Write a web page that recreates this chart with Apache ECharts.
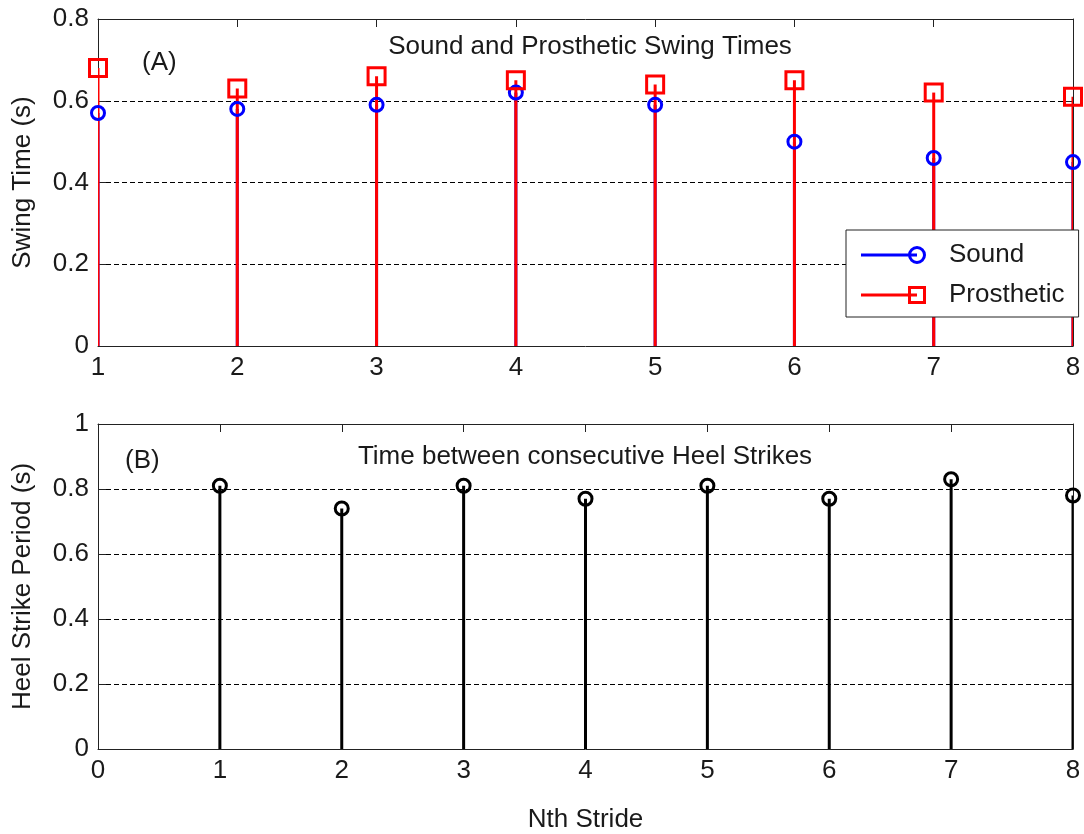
<!DOCTYPE html>
<html lang="en">
<head>
    <meta charset="UTF-8">
    <title>Swing Times</title>
    <script src="https://cdn.jsdelivr.net/npm/echarts@6/dist/echarts.min.js"></script>
    <style>
        html, body { margin: 0; padding: 0; background: #fff; }
        #container { width: 1084px; height: 834px; }
    </style>
</head>
<body>
<div id="container"></div>
<script type="text/javascript">
    // stride numbers
    var strides = [1, 2, 3, 4, 5, 6, 7, 8];
    // (A) swing times, seconds
    var soundSwing = [0.57, 0.58, 0.59, 0.62, 0.59, 0.50, 0.46, 0.45];
    var prostheticSwing = [0.68, 0.63, 0.66, 0.65, 0.64, 0.65, 0.62, 0.61];
    // (B) heel strike period, seconds
    var heelPeriod = [0.81, 0.74, 0.81, 0.77, 0.81, 0.77, 0.83, 0.78];

    var FONT = 'Liberation Sans';
    var FS = 26;
    var TXT = '#1a1a1a';

    function pairs(xs, ys) {
        var out = [];
        for (var i = 0; i < xs.length; i++) {
            out.push([xs[i], ys[i]]);
        }
        return out;
    }

    // stem from 0 up to the value, drawn through the axis scales
    function stemSeries(data, color, gridIdx) {
        return {
            type: 'custom',
            xAxisIndex: gridIdx * 2,
            yAxisIndex: gridIdx * 2,
            clip: true,
            silent: true,
            data: data,
            renderItem: function (params, api) {
                var p0 = api.coord([api.value(0), 0]);
                var p1 = api.coord([api.value(0), api.value(1)]);
                return {
                    type: 'line',
                    shape: { x1: p0[0], y1: p0[1], x2: p1[0], y2: p1[1] },
                    style: { stroke: color, lineWidth: 3 }
                };
            }
        };
    }

    function markerSeries(name, data, symbol, size, color, gridIdx) {
        return {
            name: name,
            type: 'scatter',
            xAxisIndex: gridIdx * 2,
            yAxisIndex: gridIdx * 2,
            symbol: symbol,
            symbolSize: size,
            clip: false,
            data: data,
            itemStyle: { color: 'transparent', borderColor: color, borderWidth: 3, opacity: 1 }
        };
    }

    function yFmt(v) { return String(+v.toFixed(1)); }

    function xAxes(min, max, gridIdx, name) {
        return [{
            type: 'value', gridIndex: gridIdx, min: min, max: max, interval: 1,
            position: 'bottom',
            name: name || '', nameLocation: 'middle', nameGap: 58,
            nameTextStyle: { fontFamily: FONT, fontSize: FS, color: TXT },
            axisLine: { onZero: false, lineStyle: { color: '#222', width: 1 } },
            axisTick: { inside: true, length: 8, lineStyle: { color: '#222' } },
            axisLabel: { fontFamily: FONT, fontSize: FS, color: TXT, margin: 9 },
            splitLine: { show: false }
        }, {
            type: 'value', gridIndex: gridIdx, min: min, max: max, interval: 1,
            position: 'top',
            axisLine: { onZero: false, lineStyle: { color: '#222', width: 1 } },
            axisTick: { inside: true, length: 8, lineStyle: { color: '#222' } },
            axisLabel: { show: false },
            splitLine: { show: false }
        }];
    }

    function yAxes(max, gridIdx, name) {
        return [{
            type: 'value', gridIndex: gridIdx, min: 0, max: max, interval: 0.2,
            position: 'left',
            name: name, nameLocation: 'middle', nameGap: 62, nameRotate: 90,
            nameTextStyle: { fontFamily: FONT, fontSize: FS, color: TXT },
            axisLine: { show: true, onZero: false, lineStyle: { color: '#222', width: 1 } },
            axisTick: { show: true, inside: true, length: 8, lineStyle: { color: '#222' } },
            axisLabel: { fontFamily: FONT, fontSize: FS, color: TXT, margin: 9, formatter: yFmt },
            splitLine: { show: true, lineStyle: { color: '#000', width: 1, type: [5, 3] } }
        }, {
            type: 'value', gridIndex: gridIdx, min: 0, max: max, interval: 0.2,
            position: 'right',
            axisLine: { show: true, onZero: false, lineStyle: { color: '#222', width: 1 } },
            axisTick: { show: true, inside: true, length: 8, lineStyle: { color: '#222' } },
            axisLabel: { show: false },
            splitLine: { show: false }
        }];
    }

    var squareIcon = 'path://M0,7.5L56,7.5L56,10.5L0,10.5Z M47,0L65,0L65,18L47,18Z M50,3L50,15L62,15L62,3Z';
    var circleIcon = 'path://M0,7.5L56,7.5L56,10.5L0,10.5Z M47,9A9,9 0 1,1 65,9A9,9 0 1,1 47,9Z M50,9A6,6 0 1,0 62,9A6,6 0 1,0 50,9Z';

    var dom = document.getElementById('container');
    var myChart = echarts.init(dom, null, { renderer: 'canvas' });

    var option = {
        animation: false,
        backgroundColor: '#fff',
        grid: [
            { left: 98, top: 19, width: 975, height: 327 },
            { left: 98, top: 424, width: 975, height: 327 }
        ],
        xAxis: xAxes(1, 8, 0).concat(xAxes(0, 8, 1, 'Nth Stride')),
        yAxis: yAxes(0.8, 0, 'Swing Time (s)').concat(yAxes(1, 1, 'Heel Strike Period (s)')),
        legend: {
            left: 846, top: 230,
            orient: 'vertical',
            backgroundColor: '#fff',
            borderColor: '#222', borderWidth: 1, borderRadius: 0,
            padding: [12, 14, 9, 15],
            itemWidth: 65, itemHeight: 18, itemGap: 14,
            textStyle: { fontFamily: FONT, fontSize: FS, color: TXT, lineHeight: 20, padding: [0, 0, 0, 18] },
            data: [
                { name: 'Sound', icon: circleIcon, itemStyle: { color: '#0000ff', borderWidth: 0 } },
                { name: 'Prosthetic', icon: squareIcon, itemStyle: { color: '#ff0000', borderWidth: 0 } }
            ]
        },
        graphic: [
            { type: 'text', left: 142, top: 50, style: { text: '(A)', font: FS + 'px "' + FONT + '"', fill: TXT } },
            { type: 'text', x: 590, y: 47, style: { text: 'Sound and Prosthetic Swing Times', font: FS + 'px "' + FONT + '"', fill: TXT, textAlign: 'center', textVerticalAlign: 'middle' } },
            { type: 'text', left: 125, top: 448, style: { text: '(B)', font: FS + 'px "' + FONT + '"', fill: TXT } },
            { type: 'text', x: 585, y: 457, style: { text: 'Time between consecutive Heel Strikes', font: FS + 'px "' + FONT + '"', fill: TXT, textAlign: 'center', textVerticalAlign: 'middle' } }
        ],
        series: [
            stemSeries(pairs(strides, soundSwing), '#0000ff', 0),
            markerSeries('Sound', pairs(strides, soundSwing), 'circle', 13, '#0000ff', 0),
            stemSeries(pairs(strides, prostheticSwing), '#ff0000', 0),
            markerSeries('Prosthetic', pairs(strides, prostheticSwing), 'rect', 17, '#ff0000', 0),
            stemSeries(pairs(strides, heelPeriod), '#000000', 1),
            markerSeries('Heel', pairs(strides, heelPeriod), 'circle', 13, '#000000', 1)
        ]
    };

    if (option && typeof option === "object") {
        myChart.setOption(option, true);
    }
</script>
</body>
</html>
